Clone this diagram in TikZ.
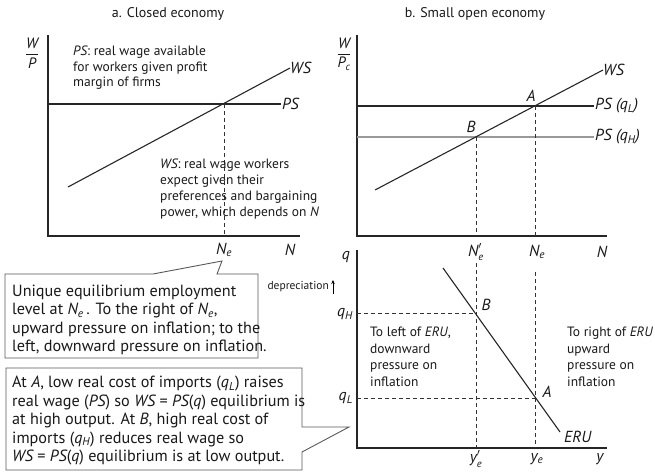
\documentclass[tikz,border=0pt]{standalone}
\usepackage{fontspec}
\setmainfont{PT Sans}
\usetikzlibrary{arrows.meta}

% italic subscript and primed symbol helpers
\newcommand{\isub}[1]{\textsubscript{\itshape #1}}
\newcommand{\iv}[1]{{\itshape #1}}
\newcommand{\primed}[2]{$\mbox{\itshape #1}^{\prime}_{\mbox{\fontsize{10.5}{11}\selectfont\itshape #2}}$}

\tikzset{
  axis/.style={line width=1.1pt, draw=black!85},
  curve/.style={line width=1.1pt, draw=black!85},
  softcurve/.style={line width=1.1pt, draw=black!40},
  guide/.style={line width=0.9pt, dash pattern=on 4pt off 3pt, draw=black!80},
  callout/.style={draw=black!65, line width=0.9pt, fill=white},
  lbl/.style={inner sep=0pt, font=\fontsize{16}{18}\selectfont\itshape},
  fraclbl/.style={inner sep=0pt, font=\fontsize{15}{17}\selectfont},
  note/.style={inner sep=0pt, align=left, anchor=base west},
  big/.style={inner sep=0pt, align=left, anchor=base west},
  heading/.style={inner sep=0pt, font=\fontsize{14}{16}\selectfont},
}

\begin{document}
\begin{tikzpicture}[x=1pt, y=-1pt, text=black!90]
\useasboundingbox (0,0) rectangle (655,471);

% ---------- titles ----------
\node[heading] (ta) at (168,14) {a. Closed economy};
\node[heading] (tb) at (475,14) {b. Small open economy};

% ---------- panel a: closed economy ----------
\coordinate (aO) at (48,236);
\coordinate (aYtop) at (48,35);
\coordinate (aXend) at (300,236);
\draw[axis] (aYtop) -- (aO) -- (aXend);
\node[fraclbl] (aylab) at (32,53) {$\displaystyle\frac{\mbox{\itshape W}}{\mbox{\itshape P}}$};

\coordinate (psA0) at (48,104);
\coordinate (psA1) at (281,104);
\draw[curve] (psA0) -- (psA1);
\node[lbl, anchor=west] (psAlab) at (282,104) {PS};

\coordinate (wsA0) at (68,187);
\coordinate (wsA1) at (290,68);
\draw[curve] (wsA0) -- (wsA1);
\node[lbl, anchor=west] (wsAlab) at (290,68) {WS};

\coordinate (eA) at (224,104);
\coordinate (eAbase) at (224,236);
\draw[guide] (eA) -- (eAbase);
\node[lbl] (NeA) at (224,250) {N\isub{e}};
\node[lbl] (NA) at (290,250) {N};

\node[note, font=\fontsize{13.5}{15.5}\selectfont] (psnote) at (73,86.5)
  {\iv{PS}: real wage available\\for workers given profit\\margin of firms};
\node[note, font=\fontsize{13.5}{16}\selectfont] (wsnote) at (160,216.5)
  {\iv{WS}: real wage workers\\expect given their\\preferences and bargaining\\power, which depends on \iv{N}};

% ---------- panel b (top): real wage ----------
\coordinate (bO) at (357,236);
\coordinate (bYtop) at (357,35);
\coordinate (bXend) at (607,236);
\draw[axis] (bYtop) -- (bO) -- (bXend);
\node[fraclbl] (bylab) at (344,54) {$\displaystyle\frac{\mbox{\itshape W}}{\mbox{\itshape P\textsubscript{c}}}$};

\coordinate (psL0) at (357,106);
\coordinate (psL1) at (594,106);
\coordinate (psH0) at (357,137);
\coordinate (psH1) at (594,137);
\draw[curve] (psL0) -- (psL1);
\draw[softcurve] (psH0) -- (psH1);
\node[lbl, anchor=west] (psLlab) at (595,106) {PS (q\isub{L})};
\node[lbl, anchor=west] (psHlab) at (595,137) {PS (q\isub{H})};

\coordinate (wsB0) at (375,190);
\coordinate (wsB1) at (603,70);
\draw[curve] (wsB0) -- (wsB1);
\node[lbl, anchor=west] (wsBlab) at (603,70) {WS};

\coordinate (ptA) at (535,106);
\coordinate (ptB) at (476,137);
\node[lbl] (Alab) at (531,96) {A};
\node[lbl] (Blab) at (471,127) {B};
\coordinate (ptAbase) at (535,236);
\coordinate (ptBbase) at (476,236);
\draw[guide] (ptA) -- (ptAbase);
\draw[guide] (ptB) -- (ptBbase);

\node[lbl] (NeP) at (476,252) {\primed{N}{e}};
\node[lbl] (NeB) at (537,252) {N\isub{e}};
\node[lbl] (NB) at (602,252) {N};

% ---------- panel b (bottom): real exchange rate ----------
\coordinate (cO) at (357,448);
\coordinate (cYtop) at (357,250);
\coordinate (cXend) at (607,448);
\draw[axis] (cYtop) -- (cO) -- (cXend);
\node[lbl] (qlab) at (346,257) {q};
\node[inner sep=0pt, anchor=east, font=\fontsize{11.5}{13}\selectfont] (dep) at (329,287) {depreciation};
\coordinate (depT0) at (333,294);
\coordinate (depT1) at (333,280);
\draw[line width=0.9pt, -{Stealth[length=4pt, width=3.5pt]}] (depT0) -- (depT1);

\node[lbl, anchor=east] (qHlab) at (353,314) {q\isub{H}};
\node[lbl, anchor=east] (qLlab) at (353,398) {q\isub{L}};

\coordinate (qHB) at (476,313);
\coordinate (qLA) at (535,398);
\coordinate (qH0) at (357,313);
\coordinate (qL0) at (357,398);
\draw[guide] (qH0) -- (qHB);
\draw[guide] (qL0) -- (qLA);

\coordinate (vB0) at (476,263);
\coordinate (vB1) at (476,448);
\coordinate (vA0) at (535,272);
\coordinate (vA1) at (535,448);
\draw[guide] (vB0) -- (vB1);
\draw[guide] (vA0) -- (vA1);

\coordinate (eru0) at (443,268);
\coordinate (eru1) at (560,432);
\draw[curve] (eru0) -- (eru1);
\node[lbl, anchor=west] (erulab) at (564,437) {ERU};
\node[lbl] (Blow) at (486,305) {B};
\node[lbl] (Alow) at (547,392) {A};

\node[note, font=\fontsize{13.5}{16.7}\selectfont] (leftnote) at (370,386.5)
  {To left of \iv{ERU},\\downward\\pressure on\\inflation};
\node[note, font=\fontsize{13.5}{16.7}\selectfont] (rightnote) at (567,386.5)
  {To right of \iv{ERU}\\upward\\pressure on\\inflation};

\node[lbl] (yeP) at (476,459) {\primed{y}{e}};
\node[lbl] (ye) at (537,459) {y\isub{e}};
\node[lbl] (y) at (600,459) {y};

% ---------- callouts ----------
\draw[callout] (5,274) -- (153,274) -- (222,261) -- (217,274) -- (258,274)
  -- (258,358) -- (5,358) -- cycle;
\node[big, font=\fontsize{16.2}{18.3}\selectfont] (call1) at (12,351.5)
  {Unique equilibrium employment\\level at \iv{N}\isub{e}\,. To the right of \iv{N}\isub{e},\\upward pressure on inflation; to the\\left, downward pressure on inflation.};

\draw[callout] (6,368) -- (302,368) -- (302,427) -- (349,427) -- (302,452)
  -- (302,470) -- (6,470) -- cycle;
\node[big, font=\fontsize{16.2}{18.5}\selectfont] (call2) at (12,461.5)
  {At \iv{A}, low real cost of imports (\iv{q}\isub{L}) raises\\real wage (\iv{PS}) so \iv{WS} = \iv{PS}(\iv{q}) equilibrium is\\at high output. At \iv{B}, high real cost of\\imports (\iv{q}\isub{H}) reduces real wage so\\\iv{WS} = \iv{PS}(\iv{q}) equilibrium is at low output.};

\end{tikzpicture}
\end{document}
